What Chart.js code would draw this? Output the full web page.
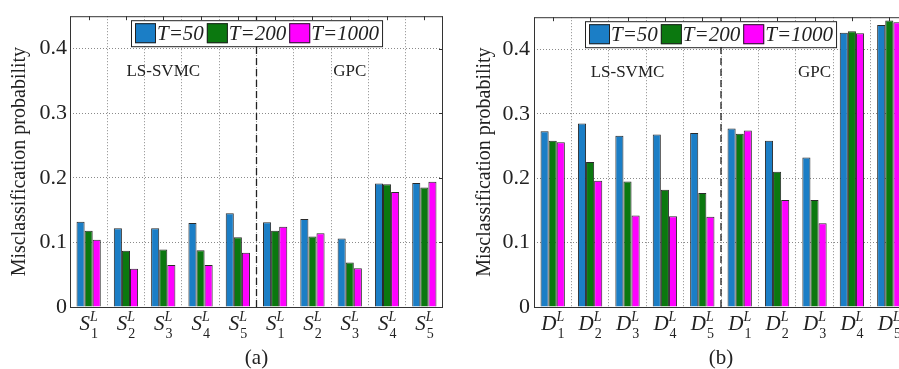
<!DOCTYPE html>
<html>
<head>
<meta charset="utf-8">
<script src="https://cdn.jsdelivr.net/npm/chart.js@4/dist/chart.umd.min.js"></script>
<style>
  html, body { margin: 0; padding: 0; background: #fff; overflow: hidden; }
  #wrap { position: relative; width: 899px; height: 369px; overflow: hidden; }
  #wrap canvas { position: absolute; top: 0; }
  #chart-a { left: 0; }
  #chart-b { left: 450px; }
</style>
</head>
<body>
<div id="wrap">
  <canvas id="chart-a" width="450" height="369"></canvas>
  <canvas id="chart-b" width="460" height="369"></canvas>
</div>
<script>
// panel (a): S^L_k, panel (b): D^L_k ; first five LS-SVMC, last five GPC
const catsA = ['S1', 'S2', 'S3', 'S4', 'S5', 'S1', 'S2', 'S3', 'S4', 'S5'];
const catsB = ['D1', 'D2', 'D3', 'D4', 'D5', 'D1', 'D2', 'D3', 'D4', 'D5'];
const groupNames = ['LS-SVMC', 'GPC'];
const seriesNames = ['T=50', 'T=200', 'T=1000'];
const seriesColors = ['#1b7ec6', '#0b780f', '#ff00ff'];
const yTicks = [0, 0.1, 0.2, 0.3, 0.4];

const a50   = [0.132, 0.122, 0.122, 0.130, 0.145, 0.131, 0.136, 0.106, 0.191, 0.192];
const a200  = [0.118, 0.087, 0.089, 0.088, 0.108, 0.118, 0.109, 0.069, 0.190, 0.185];
const a1000 = [0.104, 0.059, 0.065, 0.065, 0.084, 0.124, 0.114, 0.060, 0.178, 0.194];

const b50   = [0.273, 0.285, 0.266, 0.268, 0.270, 0.277, 0.258, 0.232, 0.426, 0.438];
const b200  = [0.258, 0.225, 0.195, 0.182, 0.177, 0.269, 0.210, 0.166, 0.428, 0.445];
const b1000 = [0.256, 0.196, 0.142, 0.141, 0.140, 0.274, 0.166, 0.130, 0.425, 0.442];

const SERIF = '"Liberation Serif", "Times New Roman", serif';
const INK = '#222';

const decorPlugin = {
  id: 'decor',
  afterDatasetsDraw(chart, args, opts) {
    const ctx = chart.ctx;
    const ca = chart.chartArea;
    const xs = chart.scales.x, ys = chart.scales.y;
    ctx.save();
    // dashed separator between the two methods
    const sx = (xs.getPixelForTick(4) + xs.getPixelForTick(5)) / 2;
    ctx.strokeStyle = INK;
    ctx.lineWidth = 1.3;
    ctx.setLineDash([7, 4]);
    ctx.beginPath();
    ctx.moveTo(sx, ca.bottom);
    ctx.lineTo(sx, ca.top);
    ctx.stroke();
    ctx.setLineDash([]);

    // method names
    ctx.fillStyle = INK;
    ctx.font = '17px ' + SERIF;
    ctx.textAlign = 'center';
    ctx.textBaseline = 'alphabetic';
    groupNames.forEach((g, i) => {
      const cx = xs.getPixelForTick(i * 5 + 2);
      ctx.fillText(g, cx, ca.top + 60);
    });

    // box with inner ticks on top and right
    ctx.strokeStyle = '#333';
    ctx.lineWidth = 1;
    ctx.strokeRect(ca.left + 0.5, ca.top + 0.5, ca.right - ca.left - 1, ca.bottom - ca.top);
    ctx.beginPath();
    for (let i = 0; i < chart.data.labels.length; i++) {
      const x = Math.round(xs.getPixelForTick(i)) + 0.5;
      ctx.moveTo(x, ca.top); ctx.lineTo(x, ca.top + 4);
    }
    yTicks.forEach(v => {
      const y = Math.round(ys.getPixelForValue(v)) + 0.5;
      ctx.moveTo(ca.right, y); ctx.lineTo(ca.right - 4, y);
    });
    ctx.stroke();

    // legend
    let x = ca.left + opts.legendOffset;
    const top = ca.top + 4, h = 26;
    ctx.font = 'italic 21px ' + SERIF;
    ctx.textAlign = 'left';
    const items = chart.data.datasets.map(d => ({ label: d.label, color: d.backgroundColor, w: ctx.measureText(d.label).width }));
    let total = 4;
    items.forEach(it => { total += 22 + it.w + 3; });
    ctx.fillStyle = '#fff';
    ctx.fillRect(x, top, total, h);
    ctx.strokeStyle = '#222';
    ctx.strokeRect(x + 0.5, top + 0.5, total, h);
    let cx = x + 4;
    items.forEach(it => {
      ctx.fillStyle = it.color;
      ctx.fillRect(cx, top + 3, 21, 20);
      ctx.strokeStyle = '#222';
      ctx.strokeRect(cx + 0.5, top + 3.5, 20, 19);
      ctx.fillStyle = INK;
      ctx.fillText(it.label, cx + 22, top + 20);
      cx += 22 + it.w + 3;
    });

    // x tick labels: letter with L superscript and index subscript
    chart.data.labels.forEach((lab, i) => {
      const px = xs.getPixelForTick(i);
      const main = lab[0], sub = lab.slice(1);
      ctx.font = 'italic 21px ' + SERIF;
      const wm = ctx.measureText(main).width;
      ctx.font = 'italic 14px ' + SERIF;
      const wl = ctx.measureText('L').width;
      ctx.font = '14px ' + SERIF;
      const ws = ctx.measureText(sub).width;
      const w = wm + Math.max(wl, ws);
      const x0 = px - w / 2;
      ctx.fillStyle = INK;
      ctx.font = 'italic 21px ' + SERIF;
      ctx.fillText(main, x0, ca.bottom + 23);
      ctx.font = 'italic 14px ' + SERIF;
      ctx.fillText('L', x0 + wm, ca.bottom + 14);
      ctx.font = '14px ' + SERIF;
      ctx.fillText(sub, x0 + wm + 1, ca.bottom + 31);
    });
    ctx.restore();
  }
};

function makeChart(id, cats, s50, s200, s1000, opt) {
  const data = [s50, s200, s1000];
  return new Chart(document.getElementById(id), {
    type: 'bar',
    data: {
      labels: cats,
      datasets: seriesNames.map((n, i) => ({
        label: n,
        data: data[i],
        backgroundColor: seriesColors[i],
        borderColor: '#2a2a2a',
        borderWidth: 1,
        borderSkipped: 'bottom',
        barPercentage: 1,
        categoryPercentage: 0.65
      }))
    },
    options: {
      responsive: false,
      animation: false,
      events: [],
      layout: { padding: { top: opt.top, right: opt.right, left: 0, bottom: 0 } },
      plugins: {
        legend: { display: false },
        tooltip: { enabled: false },
        decor: { legendOffset: opt.legendOffset }
      },
      scales: {
        x: {
          grid: { color: '#8a8a8a', drawTicks: false, lineWidth: 1 },
          border: { display: false, dash: [1, 2] },
          ticks: { display: false },
          title: { display: true, text: opt.caption, color: INK, font: { family: SERIF, size: 21, lineHeight: 1 }, padding: { top: 4, bottom: 0 } },
          afterFit: s => { s.height = 62; }
        },
        y: {
          min: 0,
          max: 0.45,
          grid: { color: '#8a8a8a', drawTicks: false, lineWidth: 1 },
          border: { display: false, dash: [1, 2] },
          afterBuildTicks: s => { s.ticks = yTicks.map(v => ({ value: v })); },
          ticks: {
            color: INK,
            padding: opt.tickPad,
            font: { family: SERIF, size: 22 },
            callback: v => String(v)
          },
          title: { display: true, text: 'Misclassification probability', color: INK, font: { family: SERIF, size: 20, lineHeight: 1 }, padding: { top: opt.titlePad, bottom: 0 } },
          afterFit: s => { s.width = opt.axisW; }
        }
      }
    },
    plugins: [decorPlugin]
  });
}

makeChart('chart-a', catsA, a50, a200, a1000, { top: 4, right: 7, axisW: 70, tickPad: 3, titlePad: 10, legendOffset: 61, caption: '(a)' });
makeChart('chart-b', catsB, b50, b200, b1000, { top: 3, right: 2, axisW: 84, tickPad: 4, titlePad: 25, legendOffset: 51, caption: '(b)' });
</script>
</body>
</html>
